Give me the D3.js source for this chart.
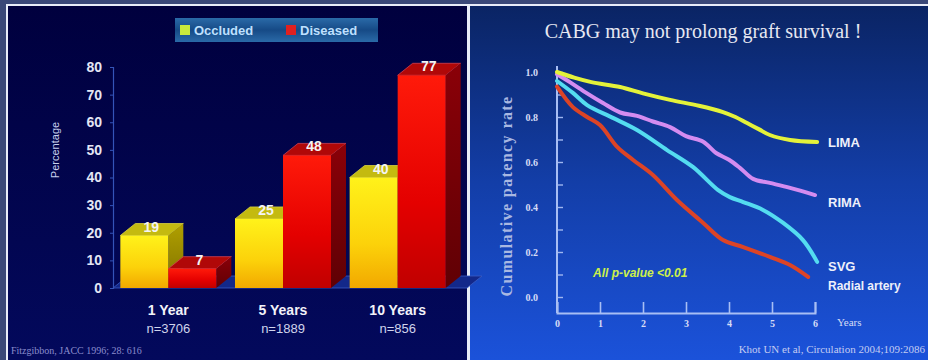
<!DOCTYPE html>
<html>
<head>
<meta charset="utf-8">
<script src="https://cdn.jsdelivr.net/npm/d3@7/dist/d3.min.js"></script>
<style>
  html, body { margin: 0; padding: 0; background: #3a4878; }
  svg { display: block; }
</style>
</head>
<body>
<svg id="chart" width="928" height="360"></svg>
<script>
// ---- Left chart: graft occlusion / disease by follow-up ----
const periods = ["1 Year", "5 Years", "10 Years"];
const periodN = ["n=3706", "n=1889", "n=856"];
const seriesNames = ["Occluded", "Diseased"];
const occluded = [19, 25, 40];
const diseased = [7, 48, 77];
const pctTicks = [0, 10, 20, 30, 40, 50, 60, 70, 80];

// ---- Right chart: cumulative patency by conduit ([year, rate]) ----
const yearTicks = [0, 1, 2, 3, 4, 5, 6];
const limaCurve = [[0,1.0],[0.4,0.975],[0.8,0.955],[1.47,0.933],[2.0,0.905],[2.63,0.876],[3.3,0.85],[3.86,0.822],[4.15,0.8],[4.42,0.773],[4.7,0.745],[4.95,0.72],[5.42,0.698],[6.05,0.689]];
const rimaCurve = [[0,0.99],[0.3,0.955],[0.7,0.905],[1.07,0.862],[1.47,0.82],[1.86,0.805],[2.23,0.78],[2.63,0.755],[3.0,0.715],[3.4,0.69],[3.7,0.64],[4.0,0.61],[4.26,0.573],[4.56,0.525],[4.95,0.507],[5.42,0.485],[6.0,0.453]];
const svgCurve = [[0,0.96],[0.37,0.907],[0.7,0.853],[1.3,0.796],[1.86,0.742],[2.56,0.653],[3.16,0.578],[3.74,0.476],[4.02,0.444],[4.33,0.422],[4.79,0.387],[5.26,0.329],[5.72,0.253],[6.05,0.156]];
const radialCurve = [[0,0.935],[0.37,0.844],[0.7,0.8],[1.0,0.764],[1.4,0.667],[1.77,0.609],[2.23,0.542],[2.79,0.431],[3.4,0.329],[3.86,0.253],[4.33,0.222],[4.95,0.178],[5.42,0.142],[5.84,0.089]];
const curveLabels = ["LIMA", "RIMA", "SVG", "Radial artery"];

const svg = d3.select("#chart");
const defs = svg.append("defs");

function linGrad(id, stops, vertical = true) {
  const g = defs.append("linearGradient").attr("id", id)
    .attr("x1", 0).attr("y1", 0).attr("x2", vertical ? 0 : 1).attr("y2", vertical ? 1 : 0);
  stops.forEach(([o, c]) => g.append("stop").attr("offset", o).attr("stop-color", c));
}
linGrad("bgLeft", [[0, "#00003e"], [1, "#03095c"]]);
linGrad("bgRight", [[0, "#0a2464"], [0.5, "#133ea8"], [1, "#1b52da"]]);
linGrad("yelFront", [[0, "#fff21a"], [0.6, "#fcd20a"], [1, "#f2a800"]]);
linGrad("redFront", [[0, "#ff1a0a"], [0.6, "#e40000"], [1, "#c00000"]]);
linGrad("yelSide", [[0, "#b0a000"], [1, "#807000"]]);
linGrad("redSide", [[0, "#8a0008"], [1, "#600004"]]);
linGrad("legendBg", [[0, "#2a6aa8"], [0.5, "#164a86"], [1, "#2a6aa8"]]);

// panels
svg.append("rect").attr("x", 0).attr("y", 0).attr("width", 928).attr("height", 360).attr("fill", "#3a4878");
svg.append("rect").attr("x", 6).attr("y", 4).attr("width", 922).attr("height", 356).attr("fill", "#e8ecf8");
svg.append("rect").attr("x", 8).attr("y", 6).attr("width", 459).attr("height", 354).attr("fill", "url(#bgLeft)");
svg.append("rect").attr("x", 470).attr("y", 6).attr("width", 458).attr("height", 354).attr("fill", "url(#bgRight)");

// =================== LEFT CHART ===================
const L = svg.append("g");
const x0 = d3.scaleBand().domain(periods).range([111, 455]);
const x1 = d3.scaleBand().domain(seriesNames).range([-48, 48]);
const yL = d3.scaleLinear().domain([0, 80]).range([288, 67]);
const DX = 15, DY = 12;
const base = yL(0);

// floor
const fl = x0.range();
L.append("polygon")
  .attr("points", [[fl[0] + 2, base], [fl[0] + 2 + DX, base - DY], [fl[1] + 12 + DX, base - DY], [fl[1] + 12, base]].map(p => p.join(",")).join(" "))
  .attr("fill", "#13288a").attr("stroke", "#3a5cc4").attr("stroke-width", 0.8);

// y axis
const axL = L.append("g").attr("transform", `translate(113,0)`)
  .call(d3.axisLeft(yL).tickValues(pctTicks).tickSize(3).tickPadding(8));
axL.select(".domain").attr("stroke", "#3454b8").attr("stroke-width", 1.2);
axL.selectAll(".tick line").attr("stroke", "#3454b8");
axL.selectAll(".tick text").attr("fill", "#e4e6f4").attr("font-family", "Arial, 'Liberation Sans', sans-serif")
  .attr("font-weight", "bold").attr("font-size", 14);

L.append("text").attr("transform", "translate(59,150) rotate(-90)")
  .attr("text-anchor", "middle").attr("fill", "#c8d0ee")
  .attr("font-family", "Arial, 'Liberation Sans', sans-serif").attr("font-size", 11)
  .text("Percentage");

const bars = [];
periods.forEach((p, i) => {
  bars.push({ p, s: "Occluded", v: occluded[i] });
  bars.push({ p, s: "Diseased", v: diseased[i] });
});

bars.forEach(d => {
  const w = x1.bandwidth();
  const xa = x0(d.p) + x0.bandwidth() / 2 + x1(d.s);
  const yt = yL(d.v);
  const yel = d.s === "Occluded";
  const g = L.append("g");
  g.append("polygon")
    .attr("points", [[xa, yt], [xa + DX, yt - DY], [xa + w + DX, yt - DY], [xa + w, yt]].map(p => p.join(",")).join(" "))
    .attr("fill", yel ? "#c4ba10" : "#b00808").attr("stroke", yel ? "#d8d040" : "#d04050").attr("stroke-width", 0.8);
  g.append("polygon")
    .attr("points", [[xa + w, yt], [xa + w + DX, yt - DY], [xa + w + DX, base - DY], [xa + w, base]].map(p => p.join(",")).join(" "))
    .attr("fill", yel ? "url(#yelSide)" : "url(#redSide)");
  g.append("rect").attr("x", xa).attr("y", yt).attr("width", w).attr("height", base - yt)
    .attr("fill", yel ? "url(#yelFront)" : "url(#redFront)");
  g.append("text").attr("x", xa + w / 2 + 7).attr("y", yt - 4)
    .attr("text-anchor", "middle").attr("fill", "#f4f4f4")
    .attr("font-family", "Arial, 'Liberation Sans', sans-serif").attr("font-weight", "bold").attr("font-size", 14)
    .text(d.v);
});

// category labels
periods.forEach((p, i) => {
  const cx = x0(p) + x0.bandwidth() / 2;
  L.append("text").attr("x", cx).attr("y", 315).attr("text-anchor", "middle")
    .attr("fill", "#f2f2f8").attr("font-family", "Arial, 'Liberation Sans', sans-serif")
    .attr("font-weight", "bold").attr("font-size", 14).text(p);
  L.append("text").attr("x", cx).attr("y", 333).attr("text-anchor", "middle")
    .attr("fill", "#d0d4ec").attr("font-family", "Arial, 'Liberation Sans', sans-serif")
    .attr("font-size", 13).text(periodN[i]);
});

// legend
const lg = L.append("g");
lg.append("rect").attr("x", 175).attr("y", 18).attr("width", 203).attr("height", 24).attr("fill", "url(#legendBg)");
lg.append("rect").attr("x", 180).attr("y", 25).attr("width", 10).attr("height", 10).attr("fill", "#c8e83c");
lg.append("text").attr("x", 194).attr("y", 35).attr("fill", "#bfe0ff")
  .attr("font-family", "Arial, 'Liberation Sans', sans-serif").attr("font-weight", "bold").attr("font-size", 13)
  .text(seriesNames[0]);
lg.append("rect").attr("x", 286).attr("y", 25).attr("width", 10).attr("height", 10).attr("fill", "#e02020");
lg.append("text").attr("x", 300).attr("y", 35).attr("fill", "#bfe0ff")
  .attr("font-family", "Arial, 'Liberation Sans', sans-serif").attr("font-weight", "bold").attr("font-size", 13)
  .text(seriesNames[1]);

L.append("text").attr("x", 11).attr("y", 354).attr("fill", "#8a8ccc")
  .attr("font-family", "'Liberation Serif', 'Times New Roman', serif").attr("font-size", 10)
  .text("Fitzgibbon, JACC 1996; 28: 616");

// =================== RIGHT CHART ===================
const R = svg.append("g");
const xR = d3.scaleLinear().domain([0, 6]).range([557, 815]);
const yR = d3.scaleLinear().domain([0, 1]).range([297, 72]);
const serif = "'Liberation Serif', 'Times New Roman', 'DejaVu Serif', serif";

R.append("text").attr("x", 703).attr("y", 38).attr("text-anchor", "middle")
  .attr("fill", "#e6e8f2").attr("font-family", serif).attr("font-size", 20)
  .text("CABG may not prolong graft survival !");

// y axis with minor ticks every 0.1
const yTickVals = d3.range(0, 11).map(i => i / 10);
const axY = R.append("g").attr("transform", "translate(557,0)")
  .call(d3.axisLeft(yR).tickValues(yTickVals).tickSize(-6).tickPadding(19)
    .tickFormat(v => (Math.round(v * 10) % 2 === 0 ? d3.format(".1f")(v) : "")));
axY.select(".domain").remove();
axY.selectAll(".tick line").attr("stroke", "#9fb6f0").attr("stroke-width", 1.4);
axY.selectAll(".tick text").attr("fill", "#d6dcf6").attr("font-family", serif)
  .attr("font-weight", "bold").attr("font-size", 10);
R.append("line").attr("x1", 557).attr("x2", 557).attr("y1", 66).attr("y2", 313)
  .attr("stroke", "#a8bef4").attr("stroke-width", 2);

const axX = R.append("g").attr("transform", "translate(0,313)")
  .call(d3.axisBottom(xR).tickValues(yearTicks).tickSize(-11).tickPadding(7).tickFormat(d3.format("d")));
axX.select(".domain").attr("stroke", "#a8bef4").attr("stroke-width", 2);
axX.selectAll(".tick line").attr("stroke", "#a8bef4").attr("stroke-width", 1.6);
axX.selectAll(".tick text").attr("fill", "#d6dcf6").attr("font-family", serif)
  .attr("font-weight", "bold").attr("font-size", 10);

R.append("text").attr("x", 837).attr("y", 326).attr("fill", "#d6dcf6")
  .attr("font-family", serif).attr("font-size", 11).text("Years");

R.append("text").attr("transform", "translate(512,196) rotate(-90)")
  .attr("text-anchor", "middle").attr("fill", "#a9b8e2").attr("font-family", serif)
  .attr("font-weight", "bold").attr("font-size", 16).attr("letter-spacing", 1.4)
  .text("Cumulative patency rate");

const line = d3.line().x(d => xR(d[0])).y(d => yR(d[1])).curve(d3.curveCatmullRom.alpha(0.5));
const curves = [
  { data: limaCurve, color: "#e4f23a" },
  { data: rimaCurve, color: "#d48cf0" },
  { data: svgCurve, color: "#54dcf0" },
  { data: radialCurve, color: "#dc4426" }
];
curves.slice().reverse().forEach(c => {
  R.append("path").attr("d", line(c.data)).attr("fill", "none")
    .attr("stroke", c.color).attr("stroke-width", 4).attr("stroke-linecap", "round").attr("stroke-linejoin", "round");
});

const labPos = [[828, 147], [828, 207], [828, 271], [828, 290]];
curveLabels.forEach((t, i) => {
  R.append("text").attr("x", labPos[i][0]).attr("y", labPos[i][1]).attr("fill", "#eef0fa")
    .attr("font-family", "Arial, 'Liberation Sans', sans-serif").attr("font-weight", "bold")
    .attr("font-size", i === 3 ? 12 : 13).text(t);
});

R.append("text").attr("x", 593).attr("y", 277).attr("fill", "#cdf04a")
  .attr("font-family", "Arial, 'Liberation Sans', sans-serif").attr("font-style", "italic")
  .attr("font-weight", "bold").attr("font-size", 12).text("All p-value <0.01");

R.append("text").attr("x", 925).attr("y", 353).attr("text-anchor", "end").attr("fill", "#c4ccf2")
  .attr("font-family", serif).attr("font-size", 11)
  .text("Khot UN et al, Circulation 2004;109:2086");
</script>
</body>
</html>
